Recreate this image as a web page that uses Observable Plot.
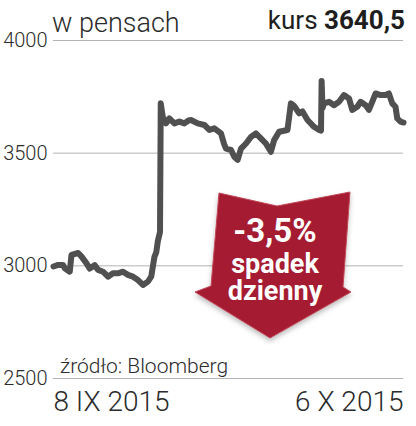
<!DOCTYPE html>
<html>
<head>
<meta charset="utf-8">
<script src="https://cdn.jsdelivr.net/npm/d3@7"></script>
<script src="https://cdn.jsdelivr.net/npm/@observablehq/plot@0.6"></script>
<style>
  html, body { margin: 0; padding: 0; background: #fff; }
  #chart svg { display: block; }
</style>
</head>
<body>
<div id="chart"></div>
<script>
// --- data (days since 8 IX 2015, price in pence) ---
const dni = [0, 0.37, 0.77, 0.90, 1.30, 1.44, 1.97, 2.23, 2.63, 2.90, 3.29, 3.57, 3.96, 4.36, 4.76, 5.16, 5.56, 5.96, 6.36, 6.76, 7.16, 7.55, 7.82, 7.95, 8.08, 8.22, 8.35, 8.52, 8.58, 8.74, 9.0, 9.27, 9.67, 10.07, 10.47, 10.8, 11.0, 11.54, 12.07, 12.47, 12.87, 13.4, 13.65, 13.8, 14.2, 14.46, 14.73, 15.0, 15.4, 15.8, 16.19, 16.59, 16.99, 17.39, 17.65, 18.05, 18.72, 18.99, 19.25, 19.65, 19.92, 20.32, 20.84, 21.24, 21.40, 21.45, 21.52, 21.64, 22.04, 22.44, 22.84, 23.24, 23.64, 23.9, 24.3, 24.57, 24.97, 25.23, 25.5, 25.77, 26.16, 26.56, 26.83, 27.1, 27.36, 27.5, 27.76, 28.0];
const kurs = [2997, 3004, 3004, 2989, 2974, 3049, 3057, 3042, 3012, 2988, 3003, 2982, 2974, 2952, 2967, 2967, 2974, 2960, 2952, 2937, 2915, 2930, 2952, 2997, 3041, 3060, 3110, 3150, 3721, 3661, 3632, 3654, 3632, 3640, 3632, 3645, 3647, 3632, 3625, 3603, 3610, 3588, 3540, 3520, 3514, 3484, 3470, 3520, 3543, 3572, 3588, 3566, 3543, 3506, 3558, 3595, 3603, 3721, 3710, 3677, 3685, 3647, 3617, 3603, 3600, 3820, 3700, 3721, 3728, 3713, 3728, 3758, 3743, 3692, 3706, 3728, 3713, 3692, 3728, 3765, 3758, 3758, 3765, 3721, 3706, 3654, 3640, 3636];
const tickiY = [2500, 3000, 3500, 4000];
const tickiX = [0, 28];
const etykietyX = ["8 IX 2015", "6 X 2015"];
const tytul = "w pensach";
const kursEtykieta = "kurs";
const kursWartosc = "3640,5";
const zrodlo = "źródło: Bloomberg";
const adnotacja = ["-3,5%", "spadek", "dzienny"];

const dane = dni.map((d, i) => ({dzien: d, kurs: kurs[i]}));

const W = 416, H = 426;
const plot = Plot.plot({
  width: W,
  height: H,
  marginLeft: 53,
  marginRight: 13,
  marginTop: 40,
  marginBottom: 48,
  style: {fontFamily: "Roboto, sans-serif", color: "#2b2b2b", background: "#fff"},
  x: {domain: [0, 28], label: null},
  y: {domain: [2500, 4000], label: null},
  marks: [
    Plot.gridY(tickiY, {stroke: "#b4b4b4", strokeOpacity: 1, strokeWidth: 1}),
    Plot.axisY(tickiY, {tickSize: 0, tickPadding: 6, fontSize: 20, fontWeight: 300, label: null, tickFormat: d => String(d)}),
    Plot.axisX([tickiX[0]], {tickSize: 0, tickPadding: 13, fontSize: 28, fontWeight: 300, label: null, textAnchor: "start", tickFormat: () => etykietyX[0]}),
    Plot.axisX([tickiX[1]], {tickSize: 0, tickPadding: 13, fontSize: 28, fontWeight: 300, label: null, textAnchor: "end", tickFormat: () => etykietyX[1]}),
    Plot.line(dane, {x: "dzien", y: "kurs", stroke: "#505050", strokeWidth: 6, strokeLinejoin: "round", strokeLinecap: "round"})
  ]
});

const svg = d3.select(plot);
// title & source
svg.append("text").attr("x", 52).attr("y", 32).attr("text-anchor", "start")
  .attr("font-family", "Roboto, sans-serif").attr("font-size", 27).attr("font-weight", 300)
  .attr("fill", "#2b2b2b").text(tytul);
const k = svg.append("text").attr("x", 405).attr("y", 29).attr("text-anchor", "end")
  .attr("font-family", "Roboto, sans-serif").attr("font-size", 26).attr("fill", "#1e1e1e");
k.append("tspan").attr("font-weight", 400).text(kursEtykieta + " ");
k.append("tspan").attr("font-weight", 700).text(kursWartosc);
svg.append("text").attr("x", 60).attr("y", 373).attr("text-anchor", "start")
  .attr("font-family", "Roboto, sans-serif").attr("font-size", 21).attr("font-weight", 300)
  .attr("fill", "#2b2b2b").text(zrodlo);

// annotation arrow
const defs = svg.append("defs");
const f = defs.append("filter").attr("id", "cien").attr("x", "-20%").attr("y", "-20%").attr("width", "140%").attr("height", "150%");
f.append("feDropShadow").attr("dx", 0).attr("dy", 3).attr("stdDeviation", 2.5).attr("flood-color", "#000").attr("flood-opacity", 0.25);
svg.append("path")
  .attr("d", "M219,193 L277,206 L350,192 L343,287 L351,292 L270,338 L195,292 L211,286 Z")
  .attr("fill", "#a51c30").attr("stroke", "#c0485a").attr("stroke-width", 1)
  .attr("stroke-linejoin", "round").attr("filter", "url(#cien)");
const tg = svg.append("g").attr("fill", "#fff").attr("font-family", "Roboto, sans-serif")
  .attr("font-weight", 700).attr("text-anchor", "middle");
tg.append("text").attr("x", 275).attr("y", 242).attr("font-size", 33).text(adnotacja[0]);
tg.append("text").attr("x", 275).attr("y", 273).attr("font-size", 27).text(adnotacja[1]);
tg.append("text").attr("x", 275).attr("y", 300).attr("font-size", 27).text(adnotacja[2]);

document.getElementById("chart").appendChild(plot);
</script>
</body>
</html>
